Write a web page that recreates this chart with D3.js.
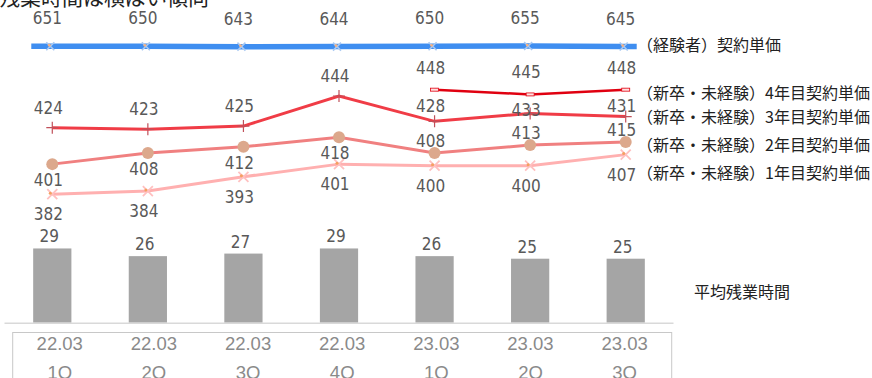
<!DOCTYPE html>
<html><head><meta charset="utf-8">
<script src="https://cdn.jsdelivr.net/npm/d3@7"></script>
<style>body{margin:0;background:#fff}svg{display:block}</style>
</head><body><svg id="chart" width="872" height="378"></svg>
<script>
// Quarterly contract unit prices and average overtime
const periods = ["22.03","22.03","22.03","22.03","23.03","23.03","23.03"];
const quarters = ["1Q","2Q","3Q","4Q","1Q","2Q","3Q"];
const experienced = [651,650,643,644,650,655,645];
const year4 = [null,null,null,null,448,445,448];
const year3 = [424,423,425,444,428,433,431];
const year2 = [401,408,412,418,408,413,415];
const year1 = [382,384,393,401,400,400,407];
const overtime = [29,26,27,29,26,25,25];
const seriesNames = ["（経験者）契約単価","（新卒・未経験）4年目契約単価","（新卒・未経験）3年目契約単価","（新卒・未経験）2年目契約単価","（新卒・未経験）1年目契約単価"];
const barName = "平均残業時間";
const title = "残業時間は横ばい傾向";

const svg = d3.select("#chart");
const idx = d3.range(periods.length);
const numFont = "'Liberation Sans Narrow','DejaVu Sans Condensed','Liberation Sans',sans-serif";
const jpFont = "'Noto Sans CJK JP','Noto Sans',sans-serif";
const labelColor = "#595959";

const x = d3.scaleBand().domain(idx).range([4.5, 673.5]).paddingInner(0.6).paddingOuter(0.3);
const cx = i => x(i) + x.bandwidth() / 2;
const yLine = d3.scaleLinear().domain([380, 450]).range([197.4, 86.5]);
const yBlue = d3.scaleLinear().domain([600, 700]).range([48.8, 43.8]);
const yBar = d3.scaleLinear().domain([0, 30]).range([322.7, 245.9]);
const xTable = d3.scaleBand().domain(idx).range([12.7, 671.7]);

// heading (partly above the top edge)
svg.append("text").attr("x", -1).attr("y", 5).attr("font-family", jpFont)
  .attr("font-size", 21).attr("fill", "#222").text(title);

// overtime bars
svg.selectAll("rect.bar").data(idx).join("rect").attr("class", "bar")
  .attr("x", i => x(i)).attr("width", x.bandwidth())
  .attr("y", i => yBar(overtime[i])).attr("height", i => yBar(0) - yBar(overtime[i]))
  .attr("fill", "#a5a5a5");
svg.selectAll("text.barlbl").data(idx).join("text").attr("class", "barlbl")
  .attr("x", i => cx(i) - 3).attr("y", i => yBar(overtime[i]) - 12)
  .attr("text-anchor", "middle").attr("dominant-baseline", "central")
  .attr("font-family", numFont).attr("font-size", 17).attr("fill", labelColor)
  .text(i => overtime[i]);

// baseline
svg.append("line").attr("x1", x.range()[0]).attr("x2", x.range()[1])
  .attr("y1", yBar(0) + 0.5).attr("y2", yBar(0) + 0.5).attr("stroke", "#d9d9d9").attr("stroke-width", 1.5);

// category table
svg.append("rect").attr("x", xTable.range()[0]).attr("y", 332.5)
  .attr("width", xTable.range()[1] - xTable.range()[0]).attr("height", 60)
  .attr("fill", "none").attr("stroke", "#c8c8c8").attr("stroke-width", 1);
const tcx = i => xTable(i) + xTable.bandwidth() / 2;
svg.selectAll("text.per").data(idx).join("text").attr("class", "per")
  .attr("x", tcx).attr("y", 343.5).attr("text-anchor", "middle").attr("dominant-baseline", "central")
  .attr("font-family", "'Liberation Sans',sans-serif").attr("font-size", 18.5).attr("fill", "#8a8a8a")
  .text(i => periods[i]);
svg.selectAll("text.qtr").data(idx).join("text").attr("class", "qtr")
  .attr("x", tcx).attr("y", 372).attr("text-anchor", "middle").attr("dominant-baseline", "central")
  .attr("font-family", "'Liberation Sans',sans-serif").attr("font-size", 18.5).attr("fill", "#8a8a8a")
  .text(i => quarters[i]);

// experienced-staff price line (own scale, drawn past the first and last points)
const bx = i => cx(i) - 2;
const blueLine = d3.line().x(d => d[0]).y(d => d[1]);
const bluePts = idx.map(i => [bx(i), yBlue(experienced[i])]);
bluePts.unshift([bx(0) - 19, yBlue(experienced[0])]);
bluePts.push([bx(idx.length - 1) + 13, yBlue(experienced[idx.length - 1])]);
svg.append("path").attr("d", blueLine(bluePts)).attr("fill", "none")
  .attr("stroke", "#3f8ef0").attr("stroke-width", 5.5);
idx.forEach(i => {
  const px = bx(i), py = yBlue(experienced[i]);
  const g = svg.append("g");
  g.append("path").attr("d", `M${px-4},${py-4}L${px+4},${py+4}M${px-4},${py+4}L${px+4},${py-4}`)
    .attr("stroke", "#a9c9f2").attr("stroke-width", 1.6);
  g.append("circle").attr("cx", px - 1).attr("cy", py - 1).attr("r", 1.4).attr("fill", "#f4b183");
});
svg.selectAll("text.bluelbl").data(idx).join("text").attr("class", "bluelbl")
  .attr("x", i => bx(i) - 3).attr("y", i => yBlue(experienced[i]) - 28)
  .attr("text-anchor", "middle").attr("dominant-baseline", "central")
  .attr("font-family", numFont).attr("font-size", 17).attr("fill", labelColor)
  .text(i => experienced[i]);

const line = d3.line().defined(i => i.v != null).x(d => cx(d.i)).y(d => yLine(d.v));
const pts = arr => idx.map(i => ({i, v: arr[i]}));

// 1st-year line
svg.append("path").attr("d", line(pts(year1))).attr("fill", "none").attr("stroke", "#ffb0b0").attr("stroke-width", 3);
idx.forEach(i => {
  const px = cx(i), py = yLine(year1[i]);
  svg.append("path").attr("d", `M${px-5},${py-5}L${px+5},${py+5}M${px-5},${py+5}L${px+5},${py-5}`)
    .attr("stroke", "#ffc0c0").attr("stroke-width", 1.8);
  svg.append("circle").attr("cx", px - 2).attr("cy", py - 1).attr("r", 1.5).attr("fill", "#f4a060");
});

// 2nd-year line
svg.append("path").attr("d", line(pts(year2))).attr("fill", "none").attr("stroke", "#f08080").attr("stroke-width", 3);
svg.selectAll("circle.y2").data(idx).join("circle").attr("class", "y2")
  .attr("cx", cx).attr("cy", i => yLine(year2[i])).attr("r", 6).attr("fill", "#dca88c");

// 3rd-year line
svg.append("path").attr("d", line(pts(year3))).attr("fill", "none").attr("stroke", "#f03c46").attr("stroke-width", 3);
idx.forEach(i => {
  const px = cx(i), py = yLine(year3[i]);
  svg.append("path").attr("d", `M${px-6},${py}L${px+6},${py}M${px},${py-6}L${px},${py+6}`)
    .attr("stroke", "#c0505a").attr("stroke-width", 1.2);
});

// 4th-year line
svg.append("path").attr("d", line(pts(year4))).attr("fill", "none").attr("stroke", "#e00010").attr("stroke-width", 2.5);
idx.filter(i => year4[i] != null).forEach(i => {
  svg.append("rect").attr("x", cx(i) - 4).attr("y", yLine(year4[i]) - 1.5).attr("width", 8).attr("height", 3)
    .attr("fill", "#ffe0e0").attr("stroke", "#e00010").attr("stroke-width", 0.8);
});

// value labels
function labels(cls, arr, posFn) {
  svg.selectAll("text." + cls).data(idx.filter(i => arr[i] != null)).join("text").attr("class", cls)
    .attr("x", i => cx(i) - 4).attr("y", posFn)
    .attr("text-anchor", "middle").attr("dominant-baseline", "central")
    .attr("font-family", numFont).attr("font-size", 17).attr("fill", labelColor)
    .text(i => arr[i]);
}
labels("l4", year4, i => yLine(year4[i]) - 22);
// keep 3rd-year labels clear of the 4th-year line above them
labels("l3", year3, i => year4[i] != null ? Math.max(yLine(year3[i]) - 20, yLine(year4[i]) + 16) : yLine(year3[i]) - 20);
// 2nd-year labels go below unless the 1st-year line is too close
labels("l2", year2, i => (year2[i] - year1[i] < 15) ? yLine(year2[i]) - 12 : yLine(year2[i]) + 16);
labels("l1", year1, i => yLine(year1[i]) + 20);

// series names on the right
const legendY = [44, 92, 116, 144, 172];
svg.selectAll("text.leg").data(seriesNames).join("text").attr("class", "leg")
  .attr("x", 637).attr("y", (d, k) => legendY[k]).attr("dominant-baseline", "central")
  .attr("font-family", jpFont).attr("font-size", 16).attr("fill", "#222").text(d => d);
svg.append("text").attr("x", 694).attr("y", 291).attr("dominant-baseline", "central")
  .attr("font-family", jpFont).attr("font-size", 16).attr("fill", "#222").text(barName);
</script></body></html>
